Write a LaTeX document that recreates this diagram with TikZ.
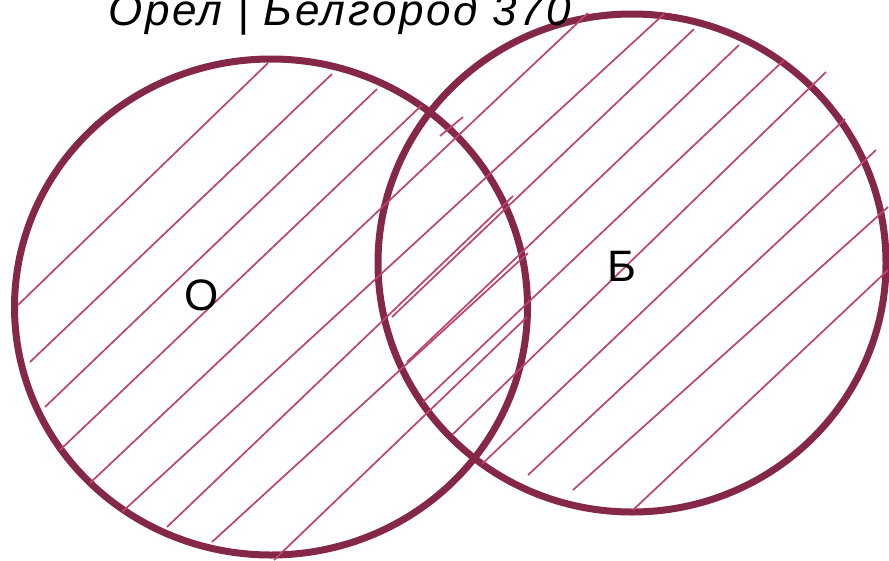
\documentclass[tikz,border=0pt]{standalone}
\usepackage{fontspec}
\setmainfont{Liberation Sans}
\definecolor{ringred}{RGB}{133,40,72}
\definecolor{hatchred}{RGB}{190,66,108}
\tikzset{
  setring/.style={draw=ringred, line width=7pt},
  hatch/.style={draw=hatchred, line width=1.7pt},
  lbl/.style={font=\fontsize{44}{44}\selectfont, inner sep=0pt},
  ttl/.style={font=\fontsize{44}{44}\selectfont\itshape\addfontfeature{LetterSpace=6},
              inner sep=0pt, anchor=base west},
}
\begin{document}
\begin{tikzpicture}[x=1pt, y=-1pt]
  \useasboundingbox (0,0) rectangle (889,560);
  % the two sets
  \coordinate (orel) at (271,307);
  \coordinate (belg) at (632,263);
  \draw[setring] (orel) ellipse [x radius=256.5pt, y radius=248pt];
  \draw[setring] (belg) ellipse [x radius=254pt, y radius=249pt];
  % hand hatching
  \foreach \xa/\ya/\xb/\yb in {18/305/268/63, 30/362/332/74, 45/407/377/89,
      60/450/422/105, 90/483/588/13, 440/136/463/117, 122/512/664/14,
      167/527/513/196, 212/542/528/253, 274/560/527/317, 392/317/694/29,
      407/362/739/45, 423/402/784/60, 452/435/826/72, 482/464/845/119,
      528/475/876/150, 573/490/888/207, 633/510/888/270}
    \draw[hatch] (\xa,\ya) -- (\xb,\yb);
  \node[lbl] (lblo) at (202,295) {О};
  \node[lbl] (lblb) at (622,266) {Б};
  \node[ttl] (title) at (108,25) {Орел | Белгород 370};
\end{tikzpicture}
\end{document}
